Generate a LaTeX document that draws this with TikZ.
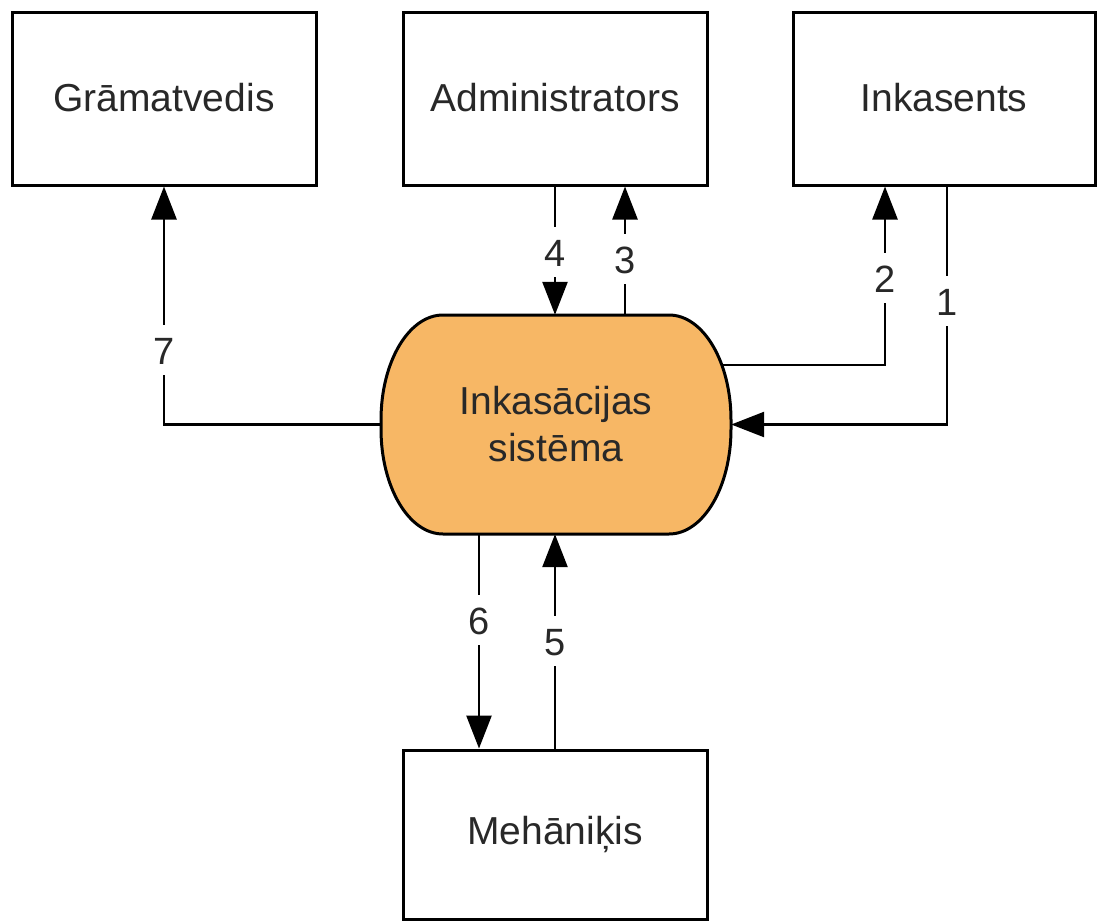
\documentclass[tikz,border=0pt]{standalone}
\usepackage{fontspec}
\setmainfont{Liberation Sans}
\usetikzlibrary{arrows.meta}
\definecolor{sysfill}{RGB}{247,183,101}
\definecolor{ink}{RGB}{40,40,40}
\begin{document}
\begin{tikzpicture}[x=1pt,y=-1pt,
  actor/.style={draw, line width=3pt, minimum width=304pt, minimum height=173pt,
    inner sep=0pt, font=\fontsize{39}{46}\selectfont, text=ink},
  flow/.style={line width=2.6pt, -{Triangle[length=33pt,width=25pt]}},
  num/.style={fill=white, inner xsep=4pt, inner ysep=0pt, text height=28pt,
    text depth=0pt, minimum height=50pt, font=\fontsize{38}{44}\selectfont, text=ink}
]
\useasboundingbox (0,0) rectangle (1097,921);

% external entities
\node[actor] (gram)  at (164,98.5) {\raisebox{3pt}{Grāmatvedis}};
\node[actor] (admin) at (555,98.5) {\raisebox{3pt}{Administrators}};
\node[actor, minimum width=302pt] (inkas) at (944,98.5) {\raisebox{3pt}{Inkasents}};
\node[actor, minimum height=169pt] (mech) at (555,834.5) {\raisebox{2pt}{Mehāniķis}};

% central process: rectangle with elliptical corners
\draw[fill=sysfill, line width=3pt]
  (443,315) -- (669,315)
  arc[start angle=270, end angle=360, x radius=62, y radius=105]
  -- (731,429)
  arc[start angle=0, end angle=90, x radius=62, y radius=105]
  -- (443,534)
  arc[start angle=90, end angle=180, x radius=62, y radius=105]
  -- (381,420)
  arc[start angle=180, end angle=270, x radius=62, y radius=105]
  -- cycle;
\node[minimum width=350pt, minimum height=219pt, align=center,
  font=\fontsize{39}{47}\selectfont, text=ink] (sys) at (556,424.5)
  {Inkasācijas\\sistēma};
\coordinate (c2) at (721,365);

% data flows
\draw[flow] (sys.west) -| (gram.south);
\node[num] (n7) at (164,350) {7};

\draw[flow] (admin.south) -- (admin.south |- sys.north);
\node[num] (n4) at (555,252) {4};

\draw[flow] ([xshift=70pt]admin.south |- sys.north) -- ([xshift=70pt]admin.south);
\node[num] (n3) at (625,259) {3};

\draw[flow] (c2) -| ([xshift=-59pt]inkas.south);
\node[num] (n2) at (885,278) {2};

\draw[flow] ([xshift=3pt]inkas.south) |- (sys.east);
\node[num] (n1) at (947,301) {1};

\draw[flow] ([xshift=-76pt]mech.north |- sys.south) -- ([xshift=-76pt]mech.north);
\node[num] (n6) at (479,620) {6};

\draw[flow] (mech.north) -- (mech.north |- sys.south);
\node[num] (n5) at (555,641) {5};
\end{tikzpicture}
\end{document}
